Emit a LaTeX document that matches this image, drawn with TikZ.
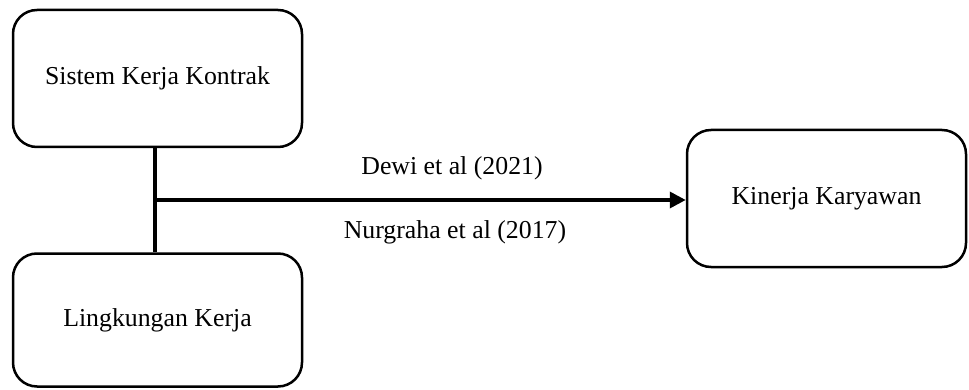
\documentclass[tikz,border=0pt]{standalone}
\usepackage{fontspec}
\setmainfont{Liberation Serif}
\usetikzlibrary{arrows.meta}
\begin{document}
\begin{tikzpicture}[x=1pt,y=-1pt,
  varbox/.style={draw, line width=2.5pt, rounded corners=24pt, fill=white,
    align=center, inner sep=0pt},
  link/.style={line width=3.5pt},
  reflabel/.style={anchor=base, inner sep=0pt},
  every node/.style={font=\fontsize{25.8}{30}\selectfont}]
  \useasboundingbox (0,0) rectangle (969,390);

  % variables
  \node[varbox, minimum width=289pt, minimum height=137pt] (skk) at (157.5,78.5) {Sistem Kerja Kontrak};
  \node[varbox, minimum width=289pt, minimum height=133pt] (lk) at (157.5,320) {Lingkungan Kerja};
  \node[varbox, minimum width=279pt, minimum height=137pt] (kk) at (826.5,198.5) {Kinerja Karyawan};

  % joint of the two predictors
  \coordinate (j) at (155,200);
  \draw[link] (j |- skk.south) -- (j |- lk.north);
  \draw[link, -{Triangle[length=16pt,width=16pt]}] (j) -- (kk.west |- j);

  % sources
  \node[reflabel] (dewi) at (452,175) {Dewi et al (2021)};
  \node[reflabel] (nur) at (455,238) {Nurgraha et al (2017)};
\end{tikzpicture}
\end{document}
